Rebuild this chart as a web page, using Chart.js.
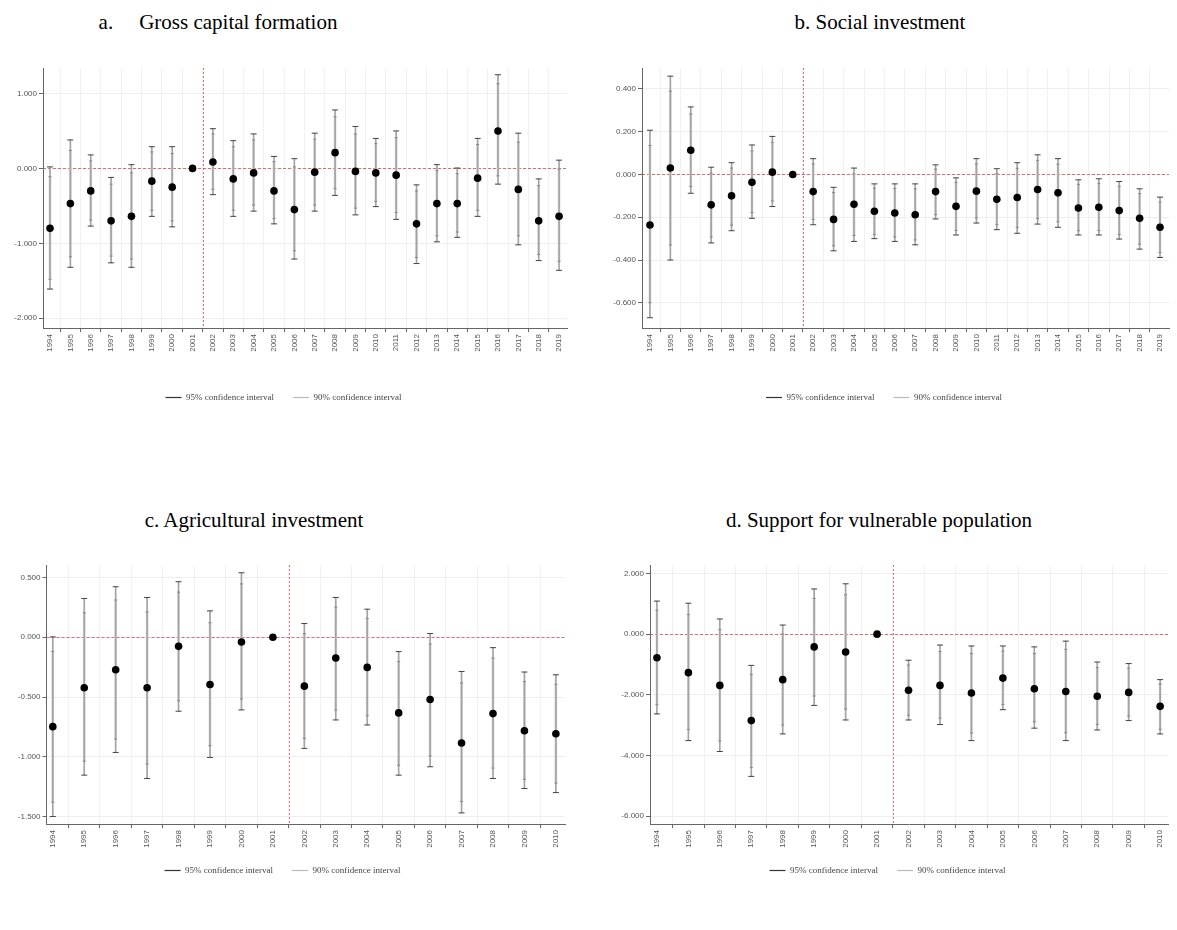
<!DOCTYPE html>
<html><head><meta charset="utf-8">
<script src="https://cdn.jsdelivr.net/npm/chart.js@4.4.1/dist/chart.umd.min.js"></script>
<style>
html,body{margin:0;padding:0;background:#fff}
body{width:1177px;height:930px;position:relative;overflow:hidden;font-family:"Liberation Serif","Times New Roman",serif}
.t{position:absolute;font-size:21px;color:#000;white-space:pre;transform:translate(-50%,-50%)}
.c{position:absolute}
</style></head><body>
<div class="t" style="left:218px;top:22px"><span style="margin-right:26px">a.</span>Gross capital formation</div>
<div class="t" style="left:880px;top:22px">b. Social investment</div>
<div class="t" style="left:254px;top:520px">c. Agricultural investment</div>
<div class="t" style="left:879px;top:520px">d. Support for vulnerable population</div>
<div class="c" style="left:0;top:40px;width:590px;height:372px"><canvas id="ca"></canvas></div>
<div class="c" style="left:590px;top:40px;width:587px;height:372px"><canvas id="cb"></canvas></div>
<div class="c" style="left:0;top:535px;width:590px;height:350px"><canvas id="cc"></canvas></div>
<div class="c" style="left:590px;top:535px;width:587px;height:350px"><canvas id="cd"></canvas></div>
<script>
const yearsLong = ['1994','1995','1996','1997','1998','1999','2000','2001','2002','2003','2004','2005','2006','2007','2008','2009','2010','2011','2012','2013','2014','2015','2016','2017','2018','2019'];
const yearsShort = ['1994','1995','1996','1997','1998','1999','2000','2001','2002','2003','2004','2005','2006','2007','2008','2009','2010'];
const breakAt = 7.5;

// a. Gross capital formation
const aEst  = [-0.80,-0.47,-0.30,-0.70,-0.64,-0.17,-0.25,0,0.085,-0.14,-0.06,-0.30,-0.55,-0.05,0.21,-0.04,-0.06,-0.09,-0.74,-0.47,-0.47,-0.13,0.50,-0.28,-0.70,-0.64];
const aHi95 = [0.02,0.38,0.18,-0.12,0.05,0.29,0.29,0,0.53,0.37,0.46,0.16,0.13,0.47,0.78,0.56,0.40,0.50,-0.22,0.05,0.005,0.40,1.25,0.47,-0.14,0.11];
const aLo95 = [-1.61,-1.32,-0.77,-1.26,-1.32,-0.64,-0.78,0,-0.35,-0.64,-0.57,-0.74,-1.21,-0.57,-0.36,-0.62,-0.51,-0.68,-1.27,-0.98,-0.92,-0.64,-0.21,-1.02,-1.23,-1.36];
const aHi90 = [-0.11,0.24,0.10,-0.21,-0.06,0.22,0.20,0,0.46,0.29,0.38,0.09,0.02,0.39,0.69,0.46,0.33,0.41,-0.30,-0.03,-0.07,0.32,1.13,0.35,-0.23,-0.01];
const aLo90 = [-1.48,-1.18,-0.69,-1.17,-1.21,-0.56,-0.70,0,-0.28,-0.56,-0.49,-0.67,-1.10,-0.49,-0.27,-0.53,-0.44,-0.59,-1.19,-0.90,-0.85,-0.56,-0.10,-0.90,-1.15,-1.24];
const aTicks = [-2,-1,0,1];

// b. Social investment
const bEst  = [-0.236,0.03,0.113,-0.142,-0.10,-0.036,0.011,0,-0.08,-0.21,-0.139,-0.172,-0.18,-0.188,-0.08,-0.149,-0.078,-0.116,-0.108,-0.07,-0.086,-0.157,-0.153,-0.169,-0.205,-0.247];
const bHi95 = [0.207,0.46,0.316,0.034,0.055,0.138,0.178,0,0.074,-0.06,0.03,-0.044,-0.044,-0.044,0.045,-0.016,0.074,0.027,0.055,0.092,0.074,-0.025,-0.02,-0.033,-0.067,-0.106];
const bLo95 = [-0.67,-0.40,-0.088,-0.32,-0.263,-0.205,-0.15,0,-0.235,-0.357,-0.313,-0.30,-0.313,-0.329,-0.208,-0.283,-0.227,-0.258,-0.275,-0.232,-0.247,-0.283,-0.283,-0.302,-0.349,-0.388];
const bHi90 = [0.136,0.39,0.283,0.006,0.03,0.11,0.151,0,0.049,-0.084,0.003,-0.064,-0.066,-0.067,0.025,-0.037,0.05,0.004,0.029,0.066,0.048,-0.046,-0.041,-0.055,-0.089,-0.129];
const bLo90 = [-0.60,-0.33,-0.056,-0.292,-0.237,-0.178,-0.124,0,-0.21,-0.333,-0.285,-0.28,-0.292,-0.306,-0.188,-0.262,-0.203,-0.235,-0.248,-0.206,-0.221,-0.263,-0.262,-0.281,-0.326,-0.365];
const bTicks = [-0.6,-0.4,-0.2,0,0.2,0.4];

// c. Agricultural investment
const cEst  = [-0.748,-0.423,-0.272,-0.423,-0.076,-0.395,-0.039,0,-0.409,-0.174,-0.252,-0.633,-0.521,-0.885,-0.639,-0.782,-0.807];
const cHi95 = [0.003,0.325,0.423,0.333,0.465,0.221,0.54,0,0.115,0.333,0.235,-0.12,0.031,-0.286,-0.087,-0.291,-0.314];
const cLo95 = [-1.50,-1.154,-0.964,-1.182,-0.619,-1.006,-0.608,0,-0.93,-0.692,-0.734,-1.154,-1.084,-1.47,-1.182,-1.266,-1.30];
const cHi90 = [-0.118,0.205,0.312,0.212,0.378,0.122,0.447,0,0.031,0.252,0.157,-0.202,-0.057,-0.382,-0.175,-0.37,-0.393];
const cLo90 = [-1.38,-1.037,-0.853,-1.061,-0.532,-0.908,-0.517,0,-0.847,-0.609,-0.657,-1.071,-0.994,-1.376,-1.095,-1.189,-1.221];
const cTicks = [-1.5,-1,-0.5,0,0.5];

// d. Support for vulnerable population
const dEst  = [-0.78,-1.27,-1.69,-2.85,-1.50,-0.42,-0.59,0,-1.85,-1.69,-1.94,-1.45,-1.80,-1.89,-2.05,-1.92,-2.38];
const dHi95 = [1.09,1.02,0.50,-1.03,0.30,1.49,1.66,0,-0.86,-0.36,-0.39,-0.39,-0.42,-0.23,-0.92,-0.97,-1.50];
const dLo95 = [-2.63,-3.51,-3.87,-4.69,-3.29,-2.35,-2.83,0,-2.83,-2.98,-3.51,-2.49,-3.10,-3.51,-3.16,-2.85,-3.29];
const dHi90 = [0.79,0.65,0.15,-1.32,0.01,1.18,1.30,0,-1.02,-0.57,-0.64,-0.56,-0.64,-0.50,-1.10,-1.12,-1.64];
const dLo90 = [-2.33,-3.15,-3.52,-4.40,-3.00,-2.04,-2.47,0,-2.67,-2.77,-3.26,-2.32,-2.89,-3.25,-2.98,-2.70,-3.14];
const dTicks = [-6,-4,-2,0,2];

const refLines = {
  id: 'refLines',
  beforeDatasetsDraw(chart) {
    const {ctx, chartArea: a, scales: {x, y}} = chart;
    ctx.save();
    ctx.lineWidth = 1;
    ctx.strokeStyle = 'rgba(205,80,80,0.8)';
    ctx.setLineDash([3, 2]);
    const py = Math.round(y.getPixelForValue(0)) + 0.5;
    ctx.beginPath(); ctx.moveTo(a.left, py); ctx.lineTo(a.right, py); ctx.stroke();
    ctx.setLineDash([2, 2]);
    const px = Math.round(x.getPixelForValue(breakAt)) + 0.5;
    ctx.beginPath(); ctx.moveTo(px, a.top); ctx.lineTo(px, a.bottom); ctx.stroke();
    ctx.restore();
  }
};

function panel(id, cats, est, lo95, hi95, lo90, hi90, yTicks, yMin, yMax, xMin, xMax, L) {
  const pts = arr => arr.map((v, i) => ({x: i, y: v}));
  const rng = (lo, hi) => lo.map((v, i) => ({x: i, y: [v, hi[i]]}));
  const tickFont = {family: '"Liberation Sans", Arial, sans-serif', size: 8};
  new Chart(document.getElementById(id), {
    type: 'bar',
    data: {datasets: [
      {label: '90% confidence interval', data: rng(lo90, hi90), backgroundColor: '#d9d9d9', barThickness: 2, grouped: false, order: 5},
      {label: '95% confidence interval', data: rng(lo95, hi95), backgroundColor: '#a3a3a3', barThickness: 1, grouped: false, order: 4},
      {type: 'scatter', label: 'cap95', data: pts(lo95).concat(pts(hi95)), pointStyle: 'line', pointRadius: 3, borderColor: '#444', borderWidth: 1, order: 3},
      {type: 'scatter', label: 'cap90', data: pts(lo90).concat(pts(hi90)), pointStyle: 'line', pointRadius: 1.5, borderColor: '#888', borderWidth: 1, order: 2},
      {type: 'scatter', label: 'Estimate', data: pts(est), pointRadius: 3.8, backgroundColor: '#000', borderColor: '#000', borderWidth: 0, order: 1}
    ]},
    options: {
      responsive: true, maintainAspectRatio: false, animation: false,
      layout: {padding: {left: L.pl, right: L.pr, top: L.pt, bottom: 0}},
      plugins: {
        tooltip: {enabled: false},
        legend: {
          position: 'bottom',
          labels: {
            usePointStyle: true, pointStyleWidth: 16, padding: 10,
            font: {family: '"Liberation Serif", "Times New Roman", serif', size: 9},
            color: '#444',
            generateLabels: () => [
              {text: '95% confidence interval    ', pointStyle: 'line', strokeStyle: '#333', fillStyle: '#333', lineWidth: 1.2, hidden: false, datasetIndex: 1, fontColor: '#444'},
              {text: '90% confidence interval', pointStyle: 'line', strokeStyle: '#bbb', fillStyle: '#bbb', lineWidth: 1.2, hidden: false, datasetIndex: 0, fontColor: '#444'}
            ]
          }
        }
      },
      scales: {
        x: {
          type: 'linear', min: xMin, max: xMax, offset: false,
          afterBuildTicks: s => { s.ticks = cats.map((_, i) => ({value: i})); },
          afterFit: s => { s.height = L.xh; },
          ticks: {autoSkip: false, minRotation: 90, maxRotation: 90, padding: 2, color: '#555', font: tickFont,
                  callback: v => cats[v]},
          grid: {color: '#f1f1f1', tickColor: '#666', tickLength: 4},
          border: {color: '#666'}
        },
        y: {
          min: yMin, max: yMax,
          afterBuildTicks: s => { s.ticks = yTicks.map(v => ({value: v})); },
          afterFit: s => { s.width = L.yw; },
          ticks: {padding: 2, color: '#555', font: tickFont, callback: v => Number(v).toFixed(3)},
          grid: {color: '#eeeeee', tickColor: '#666', tickLength: 4},
          border: {color: '#666'}
        }
      }
    },
    plugins: [refLines]
  });
}

panel('ca', yearsLong, aEst, aLo95, aHi95, aLo90, aHi90, aTicks, -2.13, 1.34, -0.344, 25.39,
      {pl: 0, pr: 23, pt: 28, yw: 43, xh: 55});
panel('cb', yearsLong, bEst, bLo95, bHi95, bLo90, bHi90, bTicks, -0.718, 0.498, -0.39, 25.44,
      {pl: 9, pr: 8, pt: 28, yw: 43, xh: 55});
panel('cc', yearsShort, cEst, cLo95, cHi95, cLo90, cHi90, cTicks, -1.563, 0.605, -0.2, 16.29,
      {pl: 0, pr: 25, pt: 30, yw: 46.5, xh: 32});
panel('cd', yearsShort, dEst, dLo95, dHi95, dLo90, dHi90, dTicks, -6.26, 2.28, -0.22, 16.25,
      {pl: 17, pr: 9, pt: 30, yw: 43, xh: 32});
</script>
</body></html>
